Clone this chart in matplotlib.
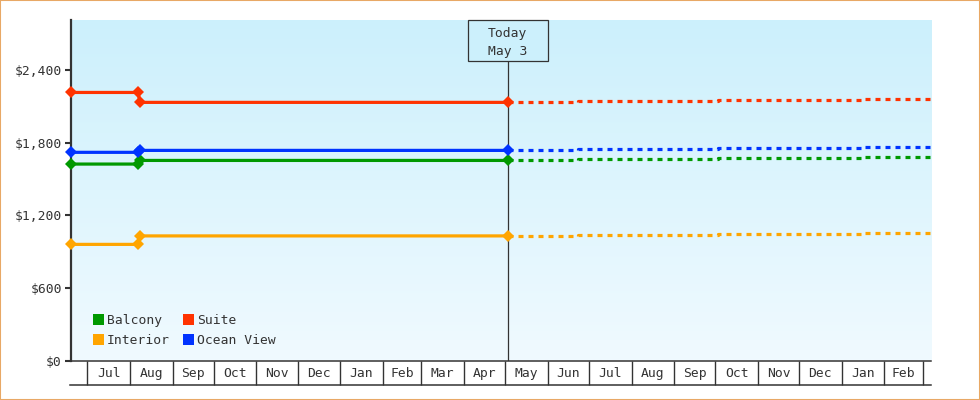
import numpy as np
import matplotlib
matplotlib.use("Agg")
import matplotlib.pyplot as plt
import matplotlib.dates as mdates
from matplotlib.colors import LinearSegmentedColormap
from matplotlib.patches import Rectangle, Patch
from matplotlib.lines import Line2D
from matplotlib.transforms import blended_transform_factory
import datetime as dt

# ---------------- data ----------------
hist_dates = ["2024-06-19", "2024-08-07", "2024-08-08", "2025-05-03"]
balcony_hist = [1624, 1624, 1654, 1654]
suite_hist = [2216, 2216, 2134, 2134]
interior_hist = [960, 960, 1030, 1030]
ocean_hist = [1721, 1721, 1737, 1737]

fc_dates = ["2025-05-03", "2025-06-23", "2025-10-03", "2026-01-15", "2026-03-07"]
balcony_fc = [1654, 1662, 1671, 1679, 1679]
suite_fc = [2134, 2143, 2151, 2159, 2159]
interior_fc = [1030, 1037, 1045, 1053, 1053]
ocean_fc = [1737, 1745, 1753, 1762, 1762]

today = "2025-05-03"
today_label = ["Today", "May 3"]
x_start, x_end = "2024-06-19", "2026-03-07"
month_labels = ["Jul", "Aug", "Sep", "Oct", "Nov", "Dec", "Jan", "Feb", "Mar", "Apr",
                "May", "Jun", "Jul", "Aug", "Sep", "Oct", "Nov", "Dec", "Jan", "Feb"]
first_month = "2024-07-01"
y_ticks = [0, 600, 1200, 1800, 2400]
y_max = 2815

series = [
    ("Balcony", "#009900", balcony_hist, balcony_fc),
    ("Interior", "#ffa500", interior_hist, interior_fc),
    ("Suite", "#ff3300", suite_hist, suite_fc),
    ("Ocean View", "#0033ff", ocean_hist, ocean_fc),
]

# ---------------- figure ----------------
plt.rcParams["font.family"] = ["DejaVu Sans Mono", "DejaVu Sans"]
plt.rcParams["font.size"] = 9.4
TXT = "#333333"

W, H = 980, 400
fig = plt.figure(figsize=(W / 100, H / 100), dpi=100)
L, R, T, B = 71, 931, 20, 360.5
ax = fig.add_axes([L / W, 1 - B / H, (R - L) / W, (B - T) / H])

def d(s):
    return mdates.date2num(dt.datetime.fromisoformat(s))

# background gradient
cmap = LinearSegmentedColormap.from_list("bg", ["#f0faff", "#ccf0fc"])
ax.imshow(np.linspace(0, 1, 256).reshape(-1, 1), cmap=cmap, origin="lower",
          extent=[0, 1, 0, 1], transform=ax.transAxes, aspect="auto", zorder=0)

lw = 2.3
on_px, off_px = 5.0, 5.0
dash = (0, (on_px * 0.72 / lw, off_px * 0.72 / lw))

hx = [d(s) for s in hist_dates]
fx = [d(s) for s in fc_dates]
for name, col, hv, fv in series:
    ax.plot(fx, fv, color=col, lw=lw, linestyle=dash, drawstyle="steps-post",
            zorder=3, solid_capstyle="butt", dash_capstyle="butt")
    ax.plot(hx, hv, color=col, lw=lw, marker="D", ms=6.4, mew=0, zorder=4,
            solid_joinstyle="miter", clip_on=False)

ax.set_xlim(d(x_start), d(x_end))
ax.set_ylim(0, y_max)

# y axis
ax.set_yticks(y_ticks)
ax.set_yticklabels(["${:,}".format(v) for v in y_ticks])
ax.tick_params(axis="y", direction="out", length=4.3, width=1.5, color=TXT,
               labelcolor=TXT, pad=2.2)

# x axis as month table
starts = []
y0, m0 = int(first_month[:4]), int(first_month[5:7])
for i in range(len(month_labels) + 1):
    m = m0 - 1 + i
    starts.append(mdates.date2num(dt.datetime(y0 + m // 12, m % 12 + 1, 1)))
mids = [(starts[i] + starts[i + 1]) / 2 for i in range(len(month_labels))]
ax.set_xticks(starts)
ax.set_xticklabels([""] * len(starts))
ax.set_xticks(mids, minor=True)
ax.set_xticklabels(month_labels, minor=True)
ax.tick_params(axis="x", which="major", direction="out", length=17.6, width=1.0,
               color=TXT)
ax.tick_params(axis="x", which="minor", length=0, pad=4.6, labelcolor=TXT)

for s in ["top", "right"]:
    ax.spines[s].set_visible(False)
ax.spines["left"].set_linewidth(1.6)
ax.spines["left"].set_color(TXT)
ax.spines["left"].set_zorder(2.5)
ax.spines["bottom"].set_linewidth(1.1)
ax.spines["bottom"].set_color(TXT)

# bottom line of month table
fig.add_artist(Line2D([70 / W, R / W], [1 - 385 / H] * 2, color=TXT, lw=1.1))

# today marker
tr = blended_transform_factory(ax.transData, ax.transAxes)
t = d(today)
box_bottom = (B - 60.7) / (B - T)
ax.plot([t, t], [0, box_bottom], transform=tr, color=TXT, lw=0.9, zorder=3.5)
px_per_day = (R - L) / (d(x_end) - d(x_start))
half_w = 40 / px_per_day
ax.add_patch(Rectangle((t - half_w, box_bottom), 2 * half_w, 1 - box_bottom,
                       transform=tr, facecolor="#ccf0fc", edgecolor=TXT, lw=0.9,
                       zorder=6, clip_on=False))
ax.text(t, (B - 32) / (B - T), today_label[0], transform=tr, ha="center",
        va="center_baseline", color=TXT, zorder=7)
ax.text(t, (B - 50) / (B - T), today_label[1], transform=tr, ha="center",
        va="center_baseline", color=TXT, zorder=7)

# legend
handles = [Patch(facecolor=c, edgecolor="none") for _, c, _, _ in series]
labels = [n for n, _, _, _ in series]
leg = ax.legend(handles, labels, ncol=2, loc="center left",
                bbox_to_anchor=((93.3 - L) / (R - L), (B - 330.5) / (B - T)),
                frameon=False, borderpad=0, borderaxespad=0,
                handlelength=0.85, handleheight=0.85, handletextpad=0.2,
                columnspacing=1.0, labelspacing=0.55)
for txt in leg.get_texts():
    txt.set_color(TXT)

# orange figure border
fig.add_artist(Rectangle((0, 0), 1, 1, transform=fig.transFigure, fill=False,
                         edgecolor="#e8a865", lw=1.5))

fig.savefig("out.png", dpi=100)
